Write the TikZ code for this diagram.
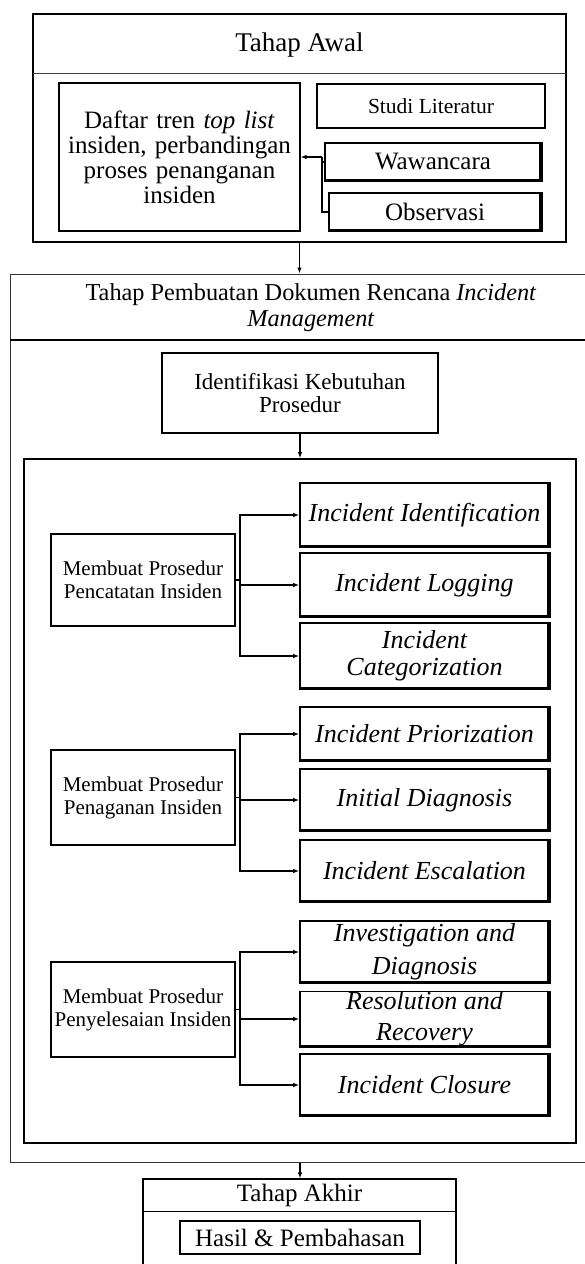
\documentclass[tikz,border=0pt]{standalone}
\usepackage{fontspec}
\setmainfont{Liberation Serif}
\usetikzlibrary{arrows.meta}
\tikzset{
  box/.style={draw=black, line width=1.2pt, inner sep=0pt, align=center, rectangle},
  ibox/.style={box, line width=1.6pt, minimum width=249pt, font=\fontsize{26}{27}\selectfont\itshape},
  mbox/.style={box, minimum width=184pt, font=\fontsize{21}{23}\selectfont},
  arr/.style={line width=1.2pt, -{Latex[length=6pt,width=4.5pt]}},
  conn/.style={line width=1.2pt},
}
\newcommand{\shadowedge}[1]{%
  \draw[line width=3pt] ([yshift=1pt]#1.south west) -- ([xshift=-1pt,yshift=1pt]#1.south east);
  \draw[line width=4pt] ([xshift=-1pt]#1.north east) -- ([xshift=-1pt,yshift=-0.5pt]#1.south east);}
\begin{document}
\begin{tikzpicture}[x=1pt,y=-1pt]
\useasboundingbox (0,0) rectangle (584,1264);
\fill[white] (0,0) rectangle (584,1264);

% ---------- Tahap Awal ----------
\node[box, line width=1.6pt, minimum width=533pt, minimum height=228pt] (awal) at (299.5,128) {};
\draw[line width=1pt, black!75] (33,73) -- (566,73);
\node[font=\fontsize{27}{28}\selectfont] (awalt) at (299.5,45) {Tahap Awal};
\node[box, minimum width=241pt, minimum height=148pt, text width=236pt,
      font=\fontsize{25}{25}\selectfont] (daftar) at (179.5,157)
  {Daftar tren \textit{top list}\\insiden, perbandingan\\proses penanganan\\insiden};
\node[box, minimum width=228pt, minimum height=44pt, font=\fontsize{21.5}{22}\selectfont] (studi) at (431,106) {Studi Literatur};
\node[box, line width=1.6pt, minimum width=216pt, minimum height=38pt, font=\fontsize{25}{25}\selectfont] (wawan) at (433,162) {Wawancara};
\node[box, line width=1.6pt, minimum width=212pt, minimum height=38pt, font=\fontsize{25}{25}\selectfont] (obs) at (435,212) {Observasi};
\shadowedge{wawan}
\shadowedge{obs}
\coordinate (jb) at (322,157);
\draw[conn] (obs.west) -| (jb);
\draw[conn] (wawan.west) -- (wawan.west -| jb);
\draw[arr] (jb) -- (daftar.east);

% ---------- Tahap Pembuatan ----------
\node[draw=black!80, line width=1pt, minimum width=575pt, minimum height=888pt, inner sep=0pt] (big) at (297.5,718) {};
\draw[arr] (awal.south) -- (awal.south |- big.north);
\draw[line width=1.2pt] (10,340) -- (585,340);
\node[align=center, font=\fontsize{24.3}{26}\selectfont] (bigt) at (311,308)
  {Tahap Pembuatan Dokumen Rencana \textit{Incident}\\\textit{Management}};
\node[box, minimum width=276pt, minimum height=80pt, font=\fontsize{23}{23}\selectfont] (ident) at (300,393)
  {Identifikasi Kebutuhan\\Prosedur};
\node[box, line width=1.6pt, minimum width=552pt, minimum height=684pt] (inner) at (300,801) {};
\draw[arr] (ident.south) -- (ident.south |- inner.north);

% right column
\node[ibox, minimum height=64pt] (iid) at (424.5,515) {Incident Identification};
\node[ibox, minimum height=64pt] (ilog) at (424.5,585) {Incident Logging};
\node[ibox, minimum height=66pt] (icat) at (424.5,656) {Incident\\Categorization};
\node[ibox, minimum height=54pt] (ipri) at (424.5,734) {Incident Priorization};
\node[ibox, minimum height=62pt] (idia) at (424.5,800) {Initial Diagnosis};
\node[ibox, minimum height=62pt] (iesc) at (424.5,871) {Incident Escalation};
\node[ibox, minimum height=62pt, font=\fontsize{26}{33}\selectfont\itshape] (iinv) at (424.5,952) {Investigation and\\Diagnosis};
\node[ibox, minimum height=54pt, font=\fontsize{26}{31}\selectfont\itshape] (ires) at (424.5,1019) {Resolution and\\Recovery};
\node[ibox, minimum height=62pt] (iclo) at (424.5,1085) {Incident Closure};
\foreach \n in {iid,ilog,icat,ipri,idia,iesc,iinv,ires,iclo} {\shadowedge{\n}}

% left column
\node[mbox, minimum height=92pt] (m1) at (143,580) {Membuat Prosedur\\Pencatatan Insiden};
\node[mbox, minimum height=95pt] (m2) at (143,797.5) {Membuat Prosedur\\Penaganan Insiden};
\node[mbox, minimum height=95pt] (m3) at (143,1009.5) {Membuat Prosedur\\Penyelesaian Insiden};

\coordinate (b1) at (240,580);
\coordinate (b2) at (240,797.5);
\coordinate (b3) at (240,1009.5);
\draw[conn] (m1.east) -- (b1);
\draw[conn] (m2.east) -- (b2);
\draw[conn] (m3.east) -- (b3);
\draw[arr] (b1) |- (iid.west);
\draw[arr] (b1) |- (ilog.west);
\draw[arr] (b1) |- (icat.west);
\draw[arr] (b2) |- (ipri.west);
\draw[arr] (b2) |- (idia.west);
\draw[arr] (b2) |- (iesc.west);
\draw[arr] (b3) |- (iinv.west);
\draw[arr] (b3) |- (ires.west);
\draw[arr] (b3) |- (iclo.west);

% ---------- Tahap Akhir ----------
\node[box, minimum width=313pt, minimum height=91pt] (akhir) at (299.5,1224.5) {};
\draw[arr] (ident.south |- big.south) -- (ident.south |- akhir.north);
\draw[line width=1.2pt] (143,1211.5) -- (456,1211.5);
\node[font=\fontsize{25}{25}\selectfont] (akhirt) at (299.5,1195) {Tahap Akhir};
\node[box, minimum width=240pt, minimum height=33pt, font=\fontsize{25}{25}\selectfont] (hasil) at (300,1237.5) {Hasil \& Pembahasan};
\end{tikzpicture}
\end{document}
